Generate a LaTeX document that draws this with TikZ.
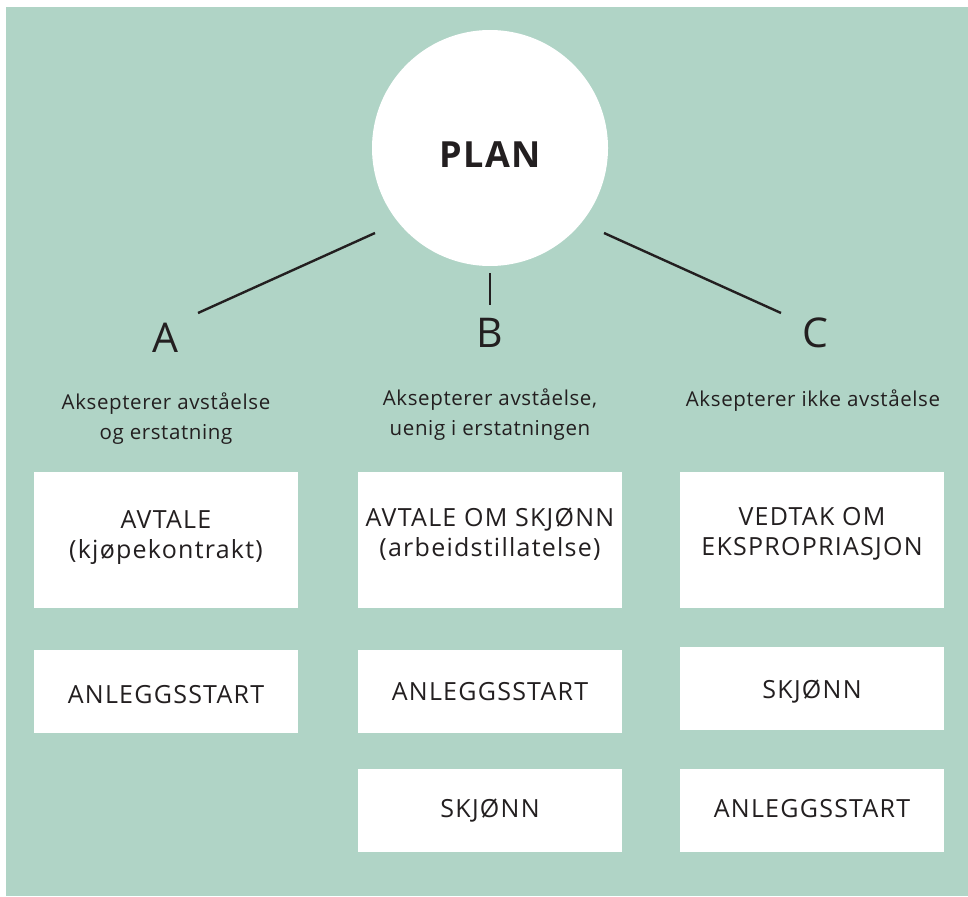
\documentclass[tikz,border=0pt]{standalone}
\usepackage{fontspec}
\setmainfont{Open Sans}
\definecolor{bgmint}{HTML}{B0D4C6}
\definecolor{ink}{HTML}{231F20}
\begin{document}
\begin{tikzpicture}[x=1pt,y=-1pt,
  box/.style={fill=white,draw=none,minimum width=264pt,inner sep=0pt},
  boxtext/.style={align=center,text=ink,inner sep=0pt,font=\fontsize{25}{30}\selectfont\addfontfeatures{LetterSpace=5}},
  sub/.style={align=center,text=ink,font=\fontsize{20.5}{30}\selectfont\addfontfeatures{LetterSpace=3}},
  letter/.style={text=ink,font=\fontsize{41}{41}\selectfont},
  conn/.style={draw=ink,line width=2.4pt}]
\useasboundingbox (0,0) rectangle (968,896);
\fill[white] (0,0) rectangle (968,896);
\fill[bgmint] (6,7) rectangle (968,896);
\node[circle,fill=white,minimum size=236pt,inner sep=0pt] (plan) at (490,148) {};
\node[text=ink,font=\fontsize{36}{36}\selectfont\bfseries\addfontfeatures{LetterSpace=4}] (plantext) at (490,155) {PLAN};
\coordinate (pa) at (375,233);
\coordinate (pb) at (490,273);
\coordinate (pc) at (604,233);
\coordinate (ea) at (198,313);
\coordinate (eb) at (490,305);
\coordinate (ec) at (781,313);
\draw[conn] (pa) -- (ea);
\draw[conn] (pb) -- (eb);
\draw[conn] (pc) -- (ec);
\node[letter] (la) at (165,338) {A};
\node[letter] (lb) at (490,333) {B};
\node[letter] (lc) at (815,333) {C};
\node[sub] (sa) at (166,419) {Aksepterer avståelse\\og erstatning};
\node[sub] (sb) at (490,415) {Aksepterer avståelse,\\uenig i erstatningen};
\node[sub] (sc) at (813,401) {Aksepterer ikke avståelse};
% column A
\node[box,minimum height=136pt] (a1) at (166,540) {};
\node[boxtext] (a1t) at ([yshift=2.5pt]a1) {AVTALE\\(kjøpekontrakt)};
\node[box,minimum height=83pt] (a2) at (166,691.5) {};
\node[boxtext] (a2t) at ([yshift=-3pt]a2) {ANLEGGSSTART};
% column B
\node[box,minimum height=136pt] (b1) at (490,540) {};
\node[boxtext] (b1t) at ([yshift=6pt]b1) {AVTALE OM SKJØNN\\(arbeidstillatelse)};
\node[box,minimum height=83pt] (b2) at (490,691.5) {};
\node[boxtext] (b2t) at (b2) {ANLEGGSSTART};
\node[box,minimum height=83pt] (b3) at (490,810.5) {};
\node[boxtext] (b3t) at (b3) {SKJØNN};
% column C
\node[box,minimum height=136pt] (c1) at (812,540) {};
\node[boxtext] (c1t) at ([yshift=6pt]c1) {VEDTAK OM\\EKSPROPRIASJON};
\node[box,minimum height=83pt] (c2) at (812,688.5) {};
\node[boxtext] (c2t) at ([yshift=-3.5pt]c2) {SKJØNN};
\node[box,minimum height=83pt] (c3) at (812,810.5) {};
\node[boxtext] (c3t) at ([yshift=2pt]c3) {ANLEGGSSTART};
\end{tikzpicture}
\end{document}
